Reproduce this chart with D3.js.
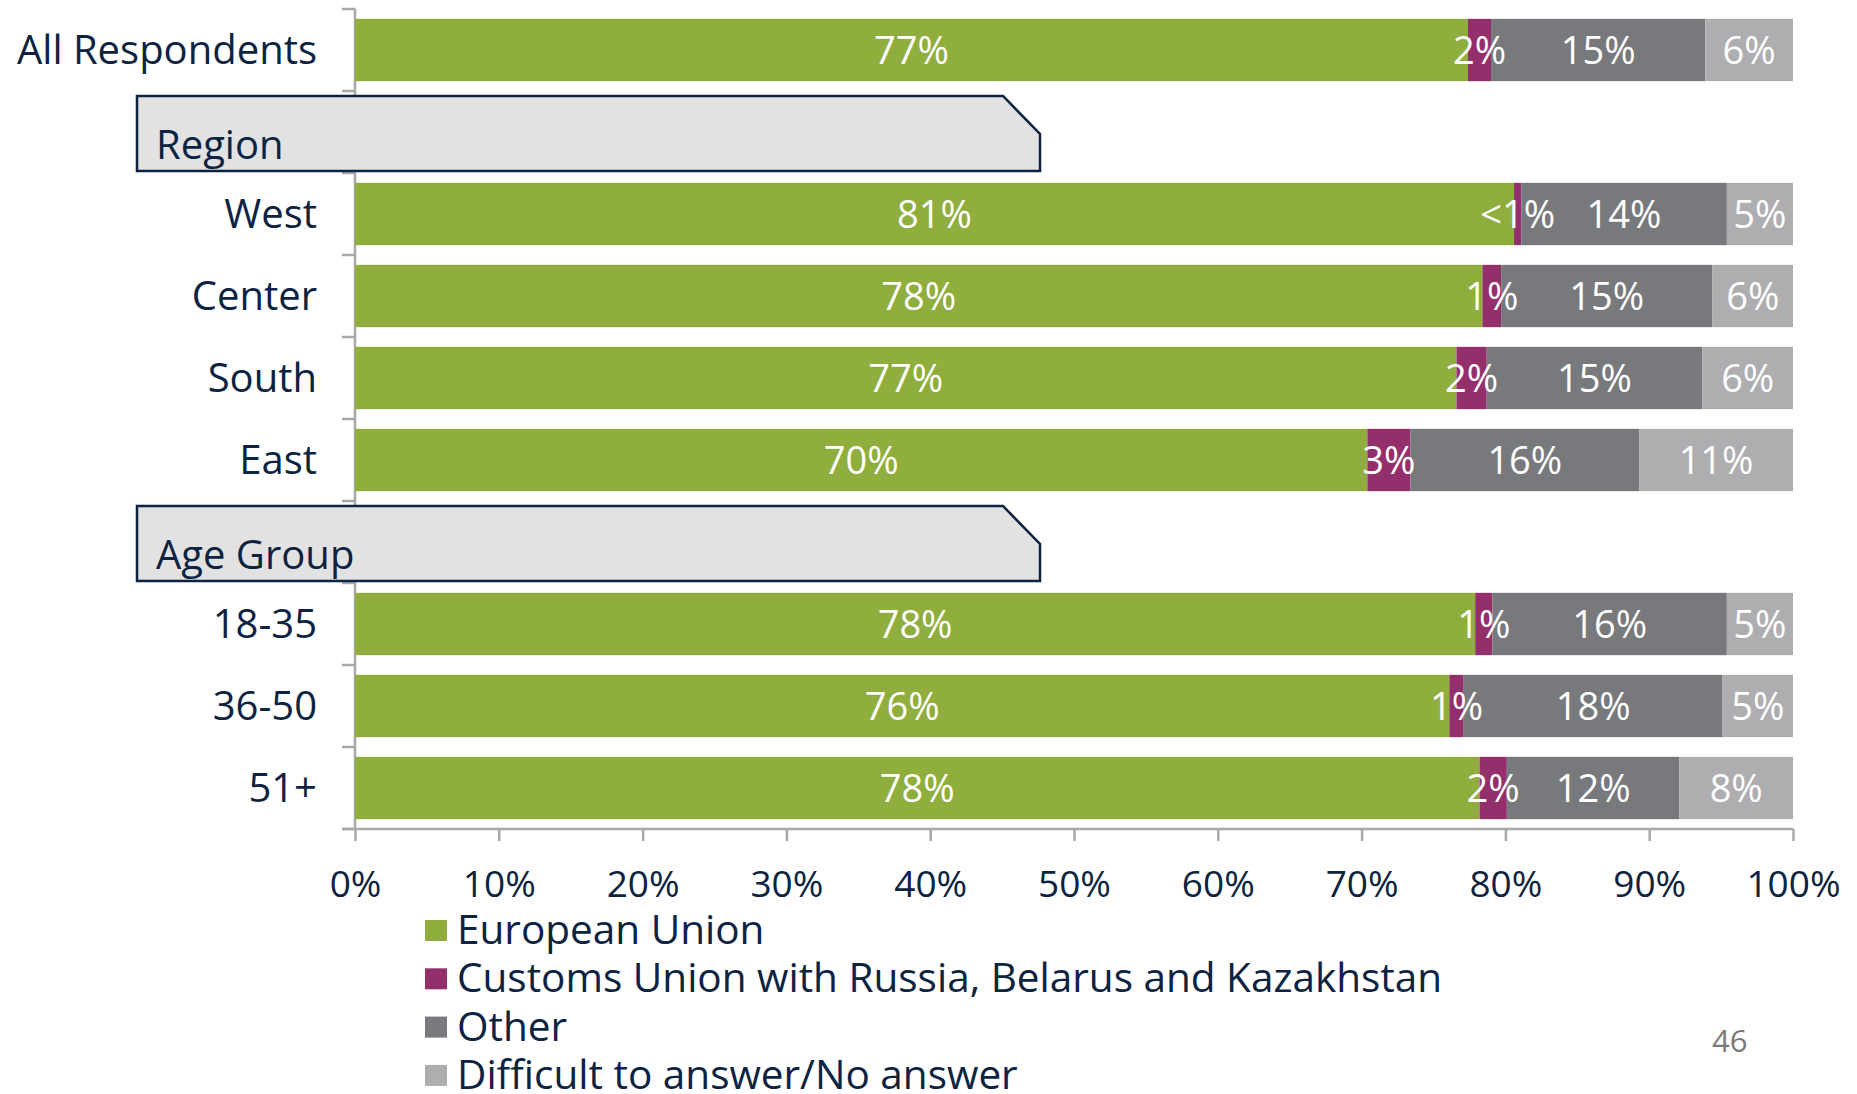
<!DOCTYPE html>
<html>
<head>
<meta charset="utf-8">
<script src="https://cdnjs.cloudflare.com/ajax/libs/d3/7.8.5/d3.min.js"></script>
<style>
	body { margin: 0; background: #fff; }
	svg { display: block; font-family: "Open Sans", sans-serif; }
</style>
</head>
<body>
<svg id="chart"></svg>
<script>
// rows of the chart, header rows included
const rows = ['All Respondents', 'Region', 'West', 'Center', 'South', 'East', 'Age Group', '18-35', '36-50', '51+'];
const headers = ['Region', 'Age Group'];
const groups = ['All Respondents', 'West', 'Center', 'South', 'East', '18-35', '36-50', '51+'];

const series = ['European Union', 'Customs Union with Russia, Belarus and Kazakhstan', 'Other', 'Difficult to answer/No answer'];
const euValues = [77.4, 80.6, 78.4, 76.6, 70.4, 77.9, 76.1, 78.2];
const cuValues = [1.6, 0.5, 1.3, 2.1, 3.0, 1.2, 1.0, 1.9];
const otherValues = [14.9, 14.3, 14.7, 15.0, 15.9, 16.3, 18.0, 12.0];
const dkValues = [6.1, 4.6, 5.6, 6.3, 10.7, 4.6, 4.9, 7.9];

const tickValues = [0, 10, 20, 30, 40, 50, 60, 70, 80, 90, 100];
const pageNumber = '46';

const W = 1857, H = 1094;
const NAVY = '#0c2342',
	AXIS = '#a8a8ab';
const colors = d3.scaleOrdinal(series, ['#8fae3e', '#93306c', '#78797c', '#aeaeb0']);

const svg = d3.select('svg#chart')
	.attr('width', W)
	.attr('height', H);

const x = d3.scaleLinear().domain([0, 100]).range([355, 1793]);
const y = d3.scaleBand()
	.domain(rows)
	.range([9, 829])
	.paddingInner(0.24)
	.paddingOuter(0.12);
const step = y.step(),
	top0 = y.range()[0];

// table for d3.stack
const table = groups.map((g, i) => ({
	group: g,
	[series[0]]: euValues[i],
	[series[1]]: cuValues[i],
	[series[2]]: otherValues[i],
	[series[3]]: dkValues[i]
}));
const stacked = d3.stack().keys(series)(table);

// left axis line with ticks on row boundaries
const leftG = svg.append('g');
leftG.append('line')
	.attr('x1', x(0)).attr('x2', x(0))
	.attr('y1', top0).attr('y2', top0 + rows.length * step)
	.attr('stroke', AXIS).attr('stroke-width', 2.5);
leftG.selectAll('line.tk')
	.data(d3.range(rows.length + 1))
	.join('line')
	.classed('tk', true)
	.attr('x1', x(0) - 13).attr('x2', x(0))
	.attr('y1', i => top0 + i * step).attr('y2', i => top0 + i * step)
	.attr('stroke', AXIS).attr('stroke-width', 2.5);

// bottom axis
const axisY = top0 + rows.length * step;
const xAxis = svg.append('g')
	.attr('transform', `translate(0,${axisY})`)
	.call(d3.axisBottom(x)
		.tickValues(tickValues)
		.tickSize(12)
		.tickSizeOuter(0)
		.tickFormat(d => d + '%'));
xAxis.select('.domain').remove();
xAxis.append('line')
	.attr('x1', x(0) - 13).attr('x2', x(100))
	.attr('stroke', AXIS).attr('stroke-width', 2.5);
xAxis.selectAll('.tick line').attr('stroke', AXIS).attr('stroke-width', 2.5);
xAxis.selectAll('.tick text')
	.attr('y', 42)
	.attr('fill', NAVY)
	.style('font-size', '37px')
	.style('font-family', '"Open Sans", sans-serif');

// bars
const barsG = svg.append('g');
barsG.selectAll('g.series')
	.data(stacked)
	.join('g')
	.classed('series', true)
	.attr('fill', d => colors(d.key))
	.selectAll('rect')
	.data(d => d)
	.join('rect')
	.attr('x', d => x(d[0]))
	.attr('y', d => y(d.data.group))
	.attr('width', d => x(d[1]) - x(d[0]))
	.attr('height', y.bandwidth());

// value labels
const fmt = v => v < 1 ? '<1%' : Math.round(v) + '%';
const labelsG = svg.append('g');
labelsG.selectAll('g.lab')
	.data(stacked)
	.join('g')
	.classed('lab', true)
	.selectAll('text')
	.data(d => d)
	.join('text')
	.attr('x', d => (x(d[0]) + x(d[1])) / 2)
	.attr('y', d => y(d.data.group) + y.bandwidth() / 2)
	.attr('dy', '0.37em')
	.attr('text-anchor', 'middle')
	.attr('fill', '#fff')
	.style('font-size', '38px')
	.text(d => fmt(d[1] - d[0]));

// category labels
svg.append('g').selectAll('text')
	.data(groups)
	.join('text')
	.attr('x', 317)
	.attr('y', d => y(d) + y.bandwidth() / 2)
	.attr('dy', '0.35em')
	.attr('text-anchor', 'end')
	.attr('fill', NAVY)
	.style('font-size', '40px')
	.text(d => d);

// header boxes with the clipped corner
const boxL = 137, boxR = 1040, notchW = 37, notchH = 38;
const headG = svg.append('g').selectAll('g')
	.data(headers)
	.join('g');
headG.append('path')
	.attr('d', d => {
		const t = y(d) - y.paddingOuter() * step + 5,
			b = t + step - 7;
		return `M${boxL},${t}H${boxR - notchW}L${boxR},${t + notchH}V${b}H${boxL}Z`;
	})
	.attr('fill', '#e2e2e2')
	.attr('stroke', NAVY)
	.attr('stroke-width', 2.5);
headG.append('text')
	.attr('x', 156)
	.attr('y', d => y(d) - y.paddingOuter() * step + 68)
	.attr('fill', NAVY)
	.style('font-size', '40px')
	.text(d => d);

// legend
const legend = svg.append('g')
	.attr('transform', 'translate(425,920)')
	.selectAll('g')
	.data(series)
	.join('g')
	.attr('transform', (d, i) => `translate(0,${i * 48.3})`);
legend.append('rect')
	.attr('width', 22)
	.attr('height', 21)
	.attr('fill', d => colors(d));
legend.append('text')
	.attr('x', 32)
	.attr('y', 24)
	.attr('fill', NAVY)
	.style('font-size', '40.5px')
	.text(d => d);

// page number
svg.append('text')
	.attr('x', 1712)
	.attr('y', 1052)
	.attr('fill', '#7a7a7a')
	.style('font-size', '31px')
	.text(pageNumber);
</script>
</body>
</html>
